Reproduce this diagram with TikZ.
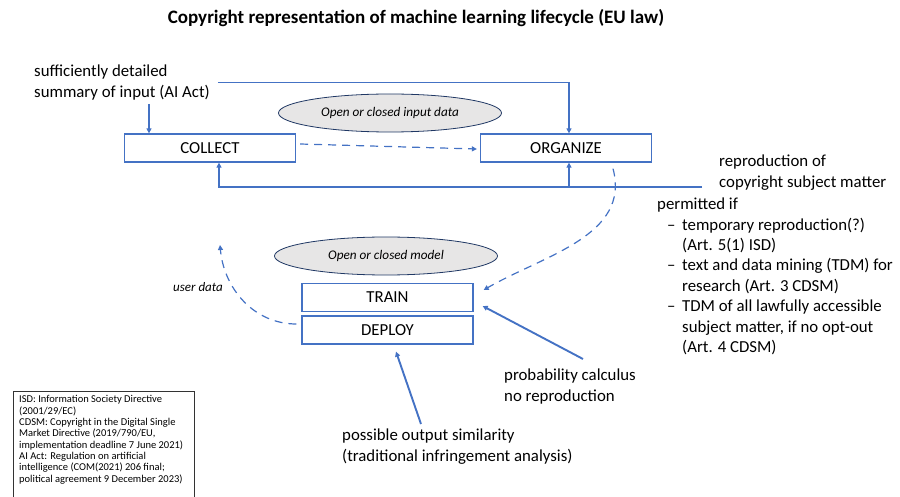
\documentclass[tikz,border=0pt]{standalone}
\usepackage{fontspec}
\setmainfont{Carlito}
\usetikzlibrary{shapes.geometric, arrows.meta, calc}
\definecolor{accent}{RGB}{68, 114, 196}
\definecolor{shade}{RGB}{231, 230, 230}
\definecolor{rim}{RGB}{32, 56, 100}
\tikzset{
  stagebox/.style={draw=accent, line width=1.3pt, minimum width=171pt, minimum height=28pt,
                   inner sep=0pt, font=\fontsize{16.8}{19}\selectfont},
  scopecloud/.style={ellipse, draw=rim, fill=shade, line width=0.8pt, minimum width=223pt,
                     minimum height=38pt, inner sep=0pt, font=\fontsize{13.2}{15}\selectfont\itshape},
  note/.style={anchor=west, align=left, inner sep=0pt, font=\fontsize{16.8}{21}\selectfont},
  link/.style={accent, line width=1.9pt, -{Triangle[length=5pt, width=5pt]}},
  flow/.style={accent, line width=1.2pt, dash pattern=on 8pt off 6pt, -{Triangle[length=5pt, width=5pt]}}
}

\begin{document}
\begin{tikzpicture}[x=1pt, y=1pt]

  \useasboundingbox (0, 0) rectangle (900, -497);

  \node[font=\fontsize{19}{22}\selectfont\bfseries] (title) at (416, -18)
    {Copyright representation of machine learning lifecycle (EU law)};

  % lifecycle stages
  \foreach \name/\x/\y/\word in {collect/210/148/COLLECT, organize/566/148/ORGANIZE,
                                 train/387.5/297.5/TRAIN, deploy/387.5/330/DEPLOY} {
    \node[stagebox] (\name) at (\x, -\y) {\word};
  }

  \node[scopecloud] (inputdata) at (390, -113) {Open or closed input data};
  \node[scopecloud] (modeldata) at (386, -256) {Open or closed model};

  % legal notes
  \node[note] (summary) at (34, -82.5) {sufficiently detailed\\summary of input (AI Act)};
  \node[note] (reproduction) at (719, -172.5) {reproduction of\\copyright subject matter};
  \node[note, font=\fontsize{16.8}{20.4}\selectfont] (permitted) at (657, -276.5)
    {permitted if\\
     \hspace*{10pt}\makebox[15pt][l]{–}temporary reproduction(?)\\
     \hspace*{25pt}(Art. 5(1) ISD)\\
     \hspace*{10pt}\makebox[15pt][l]{–}text and data mining (TDM) for\\
     \hspace*{25pt}research (Art. 3 CDSM)\\
     \hspace*{10pt}\makebox[15pt][l]{–}TDM of all lawfully accessible\\
     \hspace*{25pt}subject matter, if no opt-out\\
     \hspace*{25pt}(Art. 4 CDSM)};
  \node[note] (probability) at (504, -387) {probability calculus\\no reproduction};
  \node[note] (similarity) at (342, -447) {possible output similarity\\(traditional infringement analysis)};
  \node[note, font=\fontsize{13}{15}\selectfont\itshape] (userdata) at (173, -287) {user data};

  \node[anchor=north west, align=left, inner sep=0pt, font=\fontsize{10.5}{11.3}\selectfont] (legend) at (19, -395.5)
    {ISD: Information Society Directive\\
     (2001/29/EC)\\
     CDSM: Copyright in the Digital Single\\
     Market Directive (2019/790/EU,\\
     implementation deadline 7 June 2021)\\
     AI Act: Regulation on artificial\\
     intelligence (COM(2021) 206 final;\\
     political agreement 9 December 2023)};
  \draw[black!80, line width=0.8pt] (13, -391) rectangle (194, -505);

  % connectors
  \coordinate (inlet) at (149, -104);
  \draw[link] (inlet) -- (inlet |- collect.north);
  \draw[link] ([xshift=8pt]summary.east) -| ([xshift=3pt]organize.north);

  \coordinate (feedback) at (702, -187);
  \draw[link] (feedback) -| ([xshift=9pt]collect.south);
  \draw[link] ([xshift=3pt]organize.south |- feedback) -- ([xshift=3pt]organize.south);

  \draw[flow] ([shift={(4,4)}]collect.east) -- ([shift={(-3,-1)}]organize.west);
  \draw[flow] ([shift={(47,-6)}]organize.south) to[out=-75, in=30] ([shift={(10,7.5)}]train.east);

  \coordinate (reuse) at (220, -245);
  \draw[flow] ([shift={(-5,6)}]deploy.west) to[out=180, in=-85] (reuse);

  \coordinate (calc) at (583, -359);
  \draw[link] (calc) -- ([shift={(9,-8.5)}]train.east);
  \coordinate (output) at (421, -424);
  \draw[link] (output) -- ([shift={(8.5,-7)}]deploy.south);

\end{tikzpicture}
\end{document}
